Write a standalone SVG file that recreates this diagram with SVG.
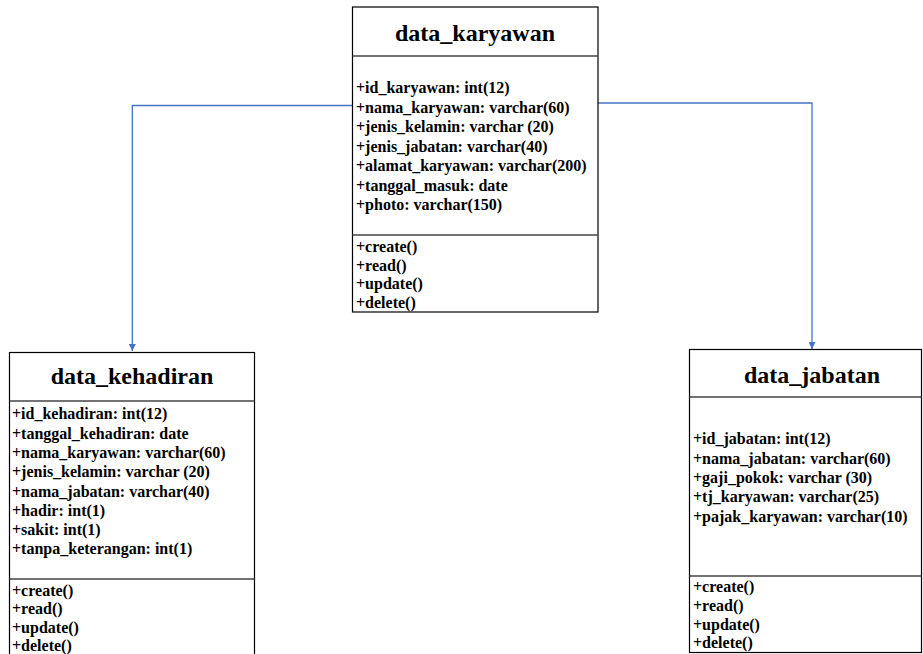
<svg xmlns="http://www.w3.org/2000/svg" width="923" height="654" viewBox="0 0 923 654">
<defs>
<marker id="arr" markerWidth="8" markerHeight="7" refX="7" refY="3.5" orient="auto" markerUnits="userSpaceOnUse">
<path d="M0,0 L7,3.5 L0,7 Z" fill="#4472C4"/>
</marker>
<style>
.box{fill:#fff;stroke:#000;stroke-width:1.2}
.sep{stroke:#444;stroke-width:1.5}
.title{font-family:"Liberation Serif","Times New Roman",serif;font-weight:bold;font-size:24px;text-anchor:middle;fill:#000}
.t{font-family:"Liberation Serif","Times New Roman",serif;font-weight:bold;font-size:16px;fill:#000}
.conn{fill:none;stroke:#4472C4;stroke-width:1.3}
</style>
</defs>
<rect width="923" height="654" fill="#fff"/>
<g id="connectors">
<path class="conn" d="M352.5,105.5 H132.3 V351" marker-end="url(#arr)"/>
<path class="conn" d="M598,103 H812 V349" marker-end="url(#arr)"/>
</g>
<g id="data_karyawan">
<rect class="box" x="352.5" y="7" width="245.5" height="305"/>
<line class="sep" x1="352.5" y1="56" x2="598" y2="56"/>
<line class="sep" x1="352.5" y1="235" x2="598" y2="235"/>
<text class="title" x="475" y="41">data_karyawan</text>
<text class="t" x="356" y="93">+id_karyawan: int(12)</text>
<text class="t" x="356" y="112.5">+nama_karyawan: varchar(60)</text>
<text class="t" x="356" y="132">+jenis_kelamin: varchar (20)</text>
<text class="t" x="356" y="151.5">+jenis_jabatan: varchar(40)</text>
<text class="t" x="356" y="171">+alamat_karyawan: varchar(200)</text>
<text class="t" x="356" y="190.5">+tanggal_masuk: date</text>
<text class="t" x="356" y="210">+photo: varchar(150)</text>
<text class="t" x="356" y="252">+create()</text>
<text class="t" x="356" y="270.5">+read()</text>
<text class="t" x="356" y="289">+update()</text>
<text class="t" x="356" y="308">+delete()</text>
</g>
<g id="data_kehadiran">
<rect class="box" x="9.5" y="352.5" width="245" height="310"/>
<line class="sep" x1="9.5" y1="401" x2="254.5" y2="401"/>
<line class="sep" x1="9.5" y1="579" x2="254.5" y2="579"/>
<text class="title" x="132" y="384">data_kehadiran</text>
<text class="t" x="12" y="419">+id_kehadiran: int(12)</text>
<text class="t" x="12" y="438.5">+tanggal_kehadiran: date</text>
<text class="t" x="12" y="458">+nama_karyawan: varchar(60)</text>
<text class="t" x="12" y="477">+jenis_kelamin: varchar (20)</text>
<text class="t" x="12" y="496.5">+nama_jabatan: varchar(40)</text>
<text class="t" x="12" y="516">+hadir: int(1)</text>
<text class="t" x="12" y="535">+sakit: int(1)</text>
<text class="t" x="12" y="554">+tanpa_keterangan: int(1)</text>
<text class="t" x="12" y="596">+create()</text>
<text class="t" x="12" y="614">+read()</text>
<text class="t" x="12" y="632.5">+update()</text>
<text class="t" x="12" y="651">+delete()</text>
</g>
<g id="data_jabatan">
<rect class="box" x="689.5" y="349.5" width="232" height="303"/>
<line class="sep" x1="689.5" y1="397" x2="921.5" y2="397"/>
<line class="sep" x1="689.5" y1="576" x2="921.5" y2="576"/>
<text class="title" x="812" y="383">data_jabatan</text>
<text class="t" x="693" y="444">+id_jabatan: int(12)</text>
<text class="t" x="693" y="463.5">+nama_jabatan: varchar(60)</text>
<text class="t" x="693" y="483">+gaji_pokok: varchar (30)</text>
<text class="t" x="693" y="502">+tj_karyawan: varchar(25)</text>
<text class="t" x="693" y="521.5">+pajak_karyawan: varchar(10)</text>
<text class="t" x="693" y="592">+create()</text>
<text class="t" x="693" y="611">+read()</text>
<text class="t" x="693" y="629.5">+update()</text>
<text class="t" x="693" y="648">+delete()</text>
</g>
</svg>
